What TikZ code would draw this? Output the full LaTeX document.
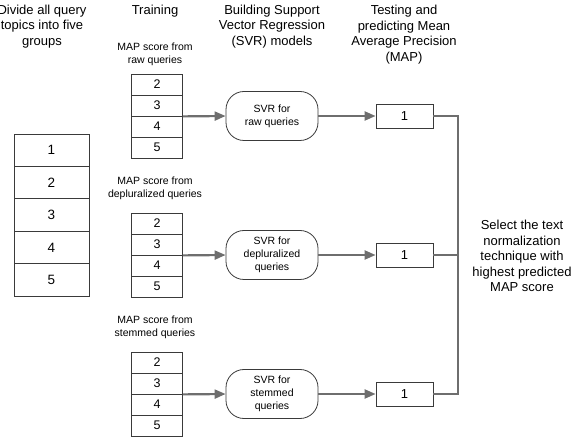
\documentclass[tikz,border=0pt]{standalone}
\usepackage{fontspec}
\setmainfont{Liberation Sans}
\usetikzlibrary{arrows.meta}
\definecolor{conn}{HTML}{6E6E6E}
\definecolor{edge}{HTML}{3A3A3A}
\begin{document}
\begin{tikzpicture}[x=1pt,y=-1pt,
  head/.style={align=center,inner sep=0pt,font=\fontsize{13}{15.6}\selectfont},
  small/.style={align=center,inner sep=0pt,font=\fontsize{10.5}{13}\selectfont},
  bigcell/.style={draw=edge,line width=0.8pt,minimum width=75pt,minimum height=32.4pt,inner sep=0pt,font=\fontsize{13.5}{16}\selectfont},
  cell/.style={draw=edge,line width=0.8pt,minimum width=51pt,minimum height=21pt,inner sep=0pt,font=\fontsize{12.5}{15}\selectfont},
  svr/.style={draw=edge,line width=0.8pt,rounded corners=18pt,minimum width=92pt,minimum height=49pt,inner sep=0pt,align=center,font=\fontsize{10.5}{13}\selectfont},
  res/.style={draw=edge,line width=0.8pt,minimum width=57pt,minimum height=24pt,inner sep=0pt,font=\fontsize{13}{15}\selectfont},
  link/.style={draw=conn,line width=2.2pt},
  arr/.style={link,-{Triangle[length=11pt,width=9pt]}}]
\useasboundingbox (0,0) rectangle (576,438);
% headings
\node[head] (h1) at (42,26.5) {Divide all query\\topics into five\\groups};
\node[head] (h2) at (155,11) {Training};
\node[head] (h3) at (272,26.5) {Building Support\\Vector Regression\\(SVR) models};
\node[head] (h4) at (404,34.5) {Testing and\\predicting Mean\\Average Precision\\(MAP)};
% big column
\node[bigcell] (g1) at (51.5,150.2) {1};
\node[bigcell] (g2) at (51.5,182.6) {2};
\node[bigcell] (g3) at (51.5,215.0) {3};
\node[bigcell] (g4) at (51.5,247.4) {4};
\node[bigcell] (g5) at (51.5,279.8) {5};
% training columns
\node[small] (l1) at (155,54.5) {MAP score from\\raw queries};
\node[cell] (a2) at (157,84.5) {2};
\node[cell] (a3) at (157,105.5) {3};
\node[cell] (a4) at (157,126.5) {4};
\node[cell] (a5) at (157,147.5) {5};
\node[small] (l2) at (155,188) {MAP score from\\depluralized queries};
\node[cell] (b2) at (157,223.5) {2};
\node[cell] (b3) at (157,244.5) {3};
\node[cell] (b4) at (157,265.5) {4};
\node[cell] (b5) at (157,286.5) {5};
\node[small] (l3) at (155,327.5) {MAP score from\\stemmed queries};
\node[cell] (c2) at (157,362.5) {2};
\node[cell] (c3) at (157,383.5) {3};
\node[cell] (c4) at (157,404.5) {4};
\node[cell] (c5) at (157,425.5) {5};
% SVR models
\node[svr] (s1) at (272,116) {SVR for\\raw queries};
\node[svr] (s2) at (272,255) {SVR for\\depluralized\\queries};
\node[svr] (s3) at (272,394) {SVR for\\stemmed\\queries};
% results
\node[res] (r1) at (404.5,116) {1};
\node[res] (r2) at (404.5,255) {1};
\node[res] (r3) at (404.5,394) {1};
% final text
\node[head] (sel) at (522,256) {Select the text\\normalization\\technique with\\highest predicted\\MAP score};
% connectors
\draw[arr] (a3.south east) -- (s1.west);
\draw[arr] (b3.south east) -- (s2.west);
\draw[arr] (c3.south east) -- (s3.west);
\draw[arr] (s1.east) -- (r1.west);
\draw[arr] (s2.east) -- (r2.west);
\draw[arr] (s3.east) -- (r3.west);
\coordinate (bt) at (458,116);
\draw[link] (r1.east) -- (bt) |- (r3.east);
\draw[link] (r2.east) -- (r2.east -| bt);
\end{tikzpicture}
\end{document}
